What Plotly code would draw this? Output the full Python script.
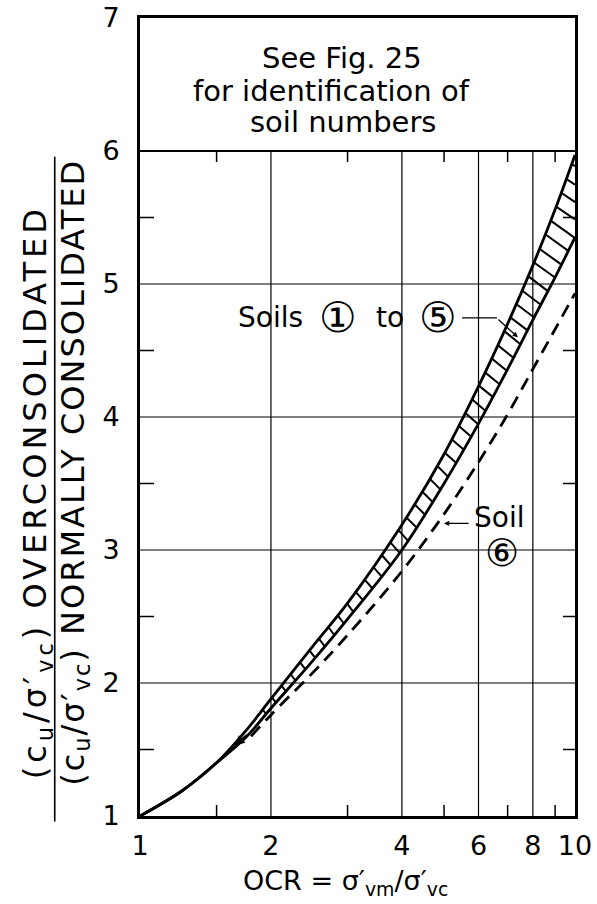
import numpy as np
import plotly.graph_objects as go

# ---------------- data ----------------
ocr = [1, 1.25, 1.5, 1.75, 2, 2.5, 3, 4, 5, 6, 7, 8, 9, 10]
soils_1_5_upper = [1.00, 1.19, 1.40, 1.64, 1.88, 2.28, 2.60, 3.19, 3.72, 4.23, 4.70, 5.14, 5.56, 5.97]
soils_1_5_lower = [1.00, 1.19, 1.40, 1.59, 1.81, 2.17, 2.48, 3.00, 3.50, 3.95, 4.36, 4.73, 5.05, 5.35]
ocr_soil6 = [1.8, 2, 2.5, 3, 4, 5, 6, 7, 8, 9, 10]
soil_6 = [1.60, 1.76, 2.08, 2.36, 2.84, 3.27, 3.66, 4.02, 4.36, 4.66, 4.93]

x_tick_vals = [1, 2, 4, 6, 8, 10]
x_tick_text = ["1", "2", "4", "6", "8", "10"]
x_grid = [2, 4, 6, 8]
x_minor = [1.5, 3, 5, 7, 9]
y_tick_vals = [1, 2, 3, 4, 5, 6, 7]
y_grid = [2, 3, 4, 5]
y_box_line = 6
y_minor = [1.5, 2.5, 3.5, 4.5, 5.5]

FONT = "DejaVu Sans"
W, H = 597, 904
ML, MR, MT, MB = 140, 22, 18, 88
PW, PH = W - ML - MR, H - MT - MB
BLK = "black"

fig = go.Figure()

# ---------------- hatching between the two band curves ----------------
def dense(xs, ys, n=1200):
    lx = np.log10(np.array(xs, float))
    t = np.linspace(lx[0], lx[-1], n)
    return t * PW, (np.interp(t, lx, ys) - 1) / 6 * PH

ux, uy = dense(ocr, soils_1_5_upper)
lwx, lwy = dense(ocr, soils_1_5_lower)
arc = np.concatenate([[0], np.cumsum(np.hypot(np.diff(ux), np.diff(uy)))])
i0 = int(np.argmax(uy >= (1.80 - 1) / 6 * PH))
hx, hy = [], []
rot = np.radians(14)
for s in np.arange(arc[i0], arc[-1] - 3, 15.0):
    i = int(np.clip(np.searchsorted(arc, s), 1, len(ux) - 2))
    px, py = ux[i], uy[i]
    tx, ty = ux[i + 1] - ux[i - 1], uy[i + 1] - uy[i - 1]
    nrm = np.hypot(tx, ty)
    tx, ty = tx / nrm, ty / nrm
    ang = np.arctan2(-tx, ty) - rot
    dx, dy = np.cos(ang), np.sin(ang)
    f = dx * (lwy - py) - dy * (lwx - px)
    k = np.where(np.sign(f[:-1]) != np.sign(f[1:]))[0]
    q = None
    for kk in k:
        a = f[kk] / (f[kk] - f[kk + 1])
        qx = lwx[kk] + a * (lwx[kk + 1] - lwx[kk])
        qy = lwy[kk] + a * (lwy[kk + 1] - lwy[kk])
        if (qx - px) * dx + (qy - py) * dy > 0:
            q = (qx, qy)
            break
    if q is None:
        sdist = (PW - px) / dx
        q = (PW, py + sdist * dy)
    hx += [10 ** (px / PW), 10 ** (q[0] / PW), None]
    hy += [1 + py / PH * 6, 1 + q[1] / PH * 6, None]

fig.add_trace(go.Scatter(x=hx, y=hy, mode="lines", line=dict(color=BLK, width=2),
                         hoverinfo="skip", showlegend=False))

fig.add_trace(go.Scatter(x=ocr, y=soils_1_5_upper, mode="lines", line_shape="spline",
                         line=dict(color=BLK, width=2.8), name="Soils 1 to 5 (upper)", showlegend=False))
fig.add_trace(go.Scatter(x=ocr, y=soils_1_5_lower, mode="lines", line_shape="spline",
                         line=dict(color=BLK, width=2.8), name="Soils 1 to 5 (lower)", showlegend=False))
fig.add_trace(go.Scatter(x=ocr_soil6, y=soil_6, mode="lines", line_shape="spline",
                         line=dict(color=BLK, width=2.8, dash="13px,8px"), name="Soil 6", showlegend=False))

# leader line for "Soils 1 to 5"
fig.add_trace(go.Scatter(x=[5.5, 6.62], y=[4.745, 4.745], mode="lines",
                         line=dict(color=BLK, width=1.3), hoverinfo="skip", showlegend=False))

# ---------------- grid / ticks as shapes ----------------
shapes = []
for xv in x_grid:
    shapes.append(dict(type="line", xref="x", yref="y", x0=xv, x1=xv, y0=1, y1=y_box_line,
                       line=dict(color=BLK, width=1.2), layer="below"))
for yv in y_grid:
    shapes.append(dict(type="line", xref="paper", yref="y", x0=0, x1=1, y0=yv, y1=yv,
                       line=dict(color=BLK, width=1.2), layer="below"))
shapes.append(dict(type="line", xref="paper", yref="y", x0=0, x1=1, y0=y_box_line, y1=y_box_line,
                   line=dict(color=BLK, width=2.2)))
for xv in x_minor:
    shapes.append(dict(type="line", xref="x", yref="y", ysizemode="pixel", yanchor=1,
                       x0=xv, x1=xv, y0=0, y1=11, line=dict(color=BLK, width=1.5)))
    shapes.append(dict(type="line", xref="x", yref="y", ysizemode="pixel", yanchor=y_box_line,
                       x0=xv, x1=xv, y0=0, y1=-11, line=dict(color=BLK, width=1.5)))
for yv in y_minor:
    shapes.append(dict(type="line", xref="paper", yref="y", xsizemode="pixel", xanchor=0,
                       x0=0, x1=14, y0=yv, y1=yv, line=dict(color=BLK, width=1.5)))
    shapes.append(dict(type="line", xref="paper", yref="y", xsizemode="pixel", xanchor=1,
                       x0=0, x1=-12, y0=yv, y1=yv, line=dict(color=BLK, width=1.5)))
# fraction bar of the y-axis title
shapes.append(dict(type="line", xref="paper", yref="paper", x0=-0.196, x1=-0.196, y0=-0.007, y1=0.826,
                   line=dict(color=BLK, width=1.6)))

# ---------------- annotations ----------------
def txt(x, y, s, size=28, xref="x domain", yref="y", **kw):
    return dict(xref=xref, yref=yref, x=x, y=y, text=s, showarrow=False,
                xanchor="center", yanchor="middle",
                font=dict(family=FONT, size=size, color=BLK), **kw)

ann = []
ann.append(txt((342 - ML) / PW, 6.70, "See Fig. 25", size=29))
ann.append(txt((331 - ML) / PW, 6.45, "for identification of", size=29))
ann.append(txt((343 - ML) / PW, 6.22, "soil numbers", size=29))
ann.append(txt((270 - ML) / PW, 4.745, "Soils"))
ann.append(txt((338 - ML) / PW, 4.745, "①", size=42))
ann.append(txt((390 - ML) / PW, 4.745, "to"))
ann.append(txt((438 - ML) / PW, 4.745, "⑤", size=42))
ann.append(dict(xref="x", yref="y", x=np.log10(7.39), y=4.60, ax=-21, ay=-19, text="",
                showarrow=True, arrowhead=2, arrowsize=0.8, arrowwidth=1.3, arrowcolor=BLK))
ann.append(txt((499 - ML) / PW, 3.245, "Soil"))
ann.append(txt((502 - ML) / PW, 2.98, "⑥", size=38))
ann.append(dict(xref="x", yref="y", x=np.log10(5.0), y=3.20, ax=26, ay=0, text="",
                showarrow=True, arrowhead=2, arrowsize=0.8, arrowwidth=1.3, arrowcolor=BLK))
ann.append(dict(xref="x", yref="y", x=np.log10(1.65), y=1.53, ax=14, ay=-12, text="",
                showarrow=True, arrowhead=2, arrowsize=1, arrowwidth=2, arrowcolor=BLK))
# x-axis title
ann.append(txt((345 - ML) / PW, -0.083, "OCR = σ′<sub>vm</sub>/σ′<sub>vc</sub>", size=27, yref="paper"))
# y-axis title (fraction)
ann.append(txt(-0.236, 0.406,
               "<span style=\"letter-spacing:4px\">(c<sub>u</sub>/σ′<sub>vc</sub>) OVERCONSOLIDATED</span>",
               size=32, xref="paper", yref="paper", textangle=-90))
ann.append(txt(-0.150, 0.431,
               "<span style=\"letter-spacing:2px\">(c<sub>u</sub>/σ′<sub>vc</sub>) NORMALLY CONSOLIDATED</span>",
               size=32, xref="paper", yref="paper", textangle=-90))

fig.update_layout(
    width=W, height=H, margin=dict(l=ML, r=MR, t=MT, b=MB),
    paper_bgcolor="white", plot_bgcolor="white",
    shapes=shapes, annotations=ann, showlegend=False,
    font=dict(family=FONT, size=27, color=BLK),
    xaxis=dict(type="log", range=[0, 1], tickvals=x_tick_vals, ticktext=x_tick_text,
               showgrid=False, zeroline=False, showline=True, mirror=True, linecolor=BLK,
               linewidth=3, ticks="", ticklabelstandoff=4, automargin=False,
               ticklabeloverflow="allow"),
    yaxis=dict(range=[1, 7], tickvals=y_tick_vals, showgrid=False, zeroline=False,
               showline=True, mirror=True, linecolor=BLK, linewidth=3, ticks="",
               ticklabelstandoff=12, automargin=False),
)

fig.write_html("out.html", config={"displayModeBar": False},
               post_script="document.body.style.margin='0';document.body.style.overflow='hidden';")
